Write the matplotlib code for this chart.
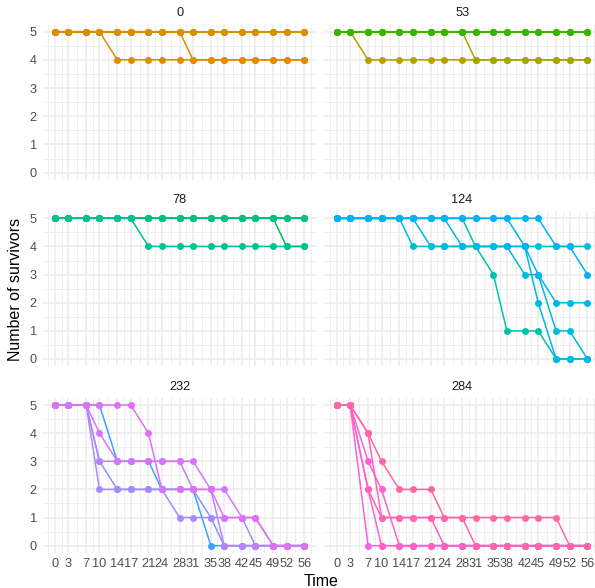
import numpy as np
import matplotlib.pyplot as plt

plt.rcParams['font.family'] = ['Liberation Sans', 'DejaVu Sans']

# sampling days and the survivor counts of every replicate, one list per dose
times = [0, 3, 7, 10, 14, 17, 21, 24, 28, 31, 35, 38, 42, 45, 49, 52, 56]
doses = ["0", "53", "78", "124", "232", "284"]

surv_0 = [
    [5, 5, 5, 5, 5, 5, 5, 5, 5, 5, 5, 5, 5, 5, 5, 5, 5],
    [5, 5, 5, 5, 5, 5, 5, 5, 5, 5, 5, 5, 5, 5, 5, 5, 5],
    [5, 5, 5, 5, 4, 4, 4, 4, 4, 4, 4, 4, 4, 4, 4, 4, 4],
    [5, 5, 5, 5, 5, 5, 5, 5, 5, 4, 4, 4, 4, 4, 4, 4, 4],
    [5, 5, 5, 5, 5, 5, 5, 5, 5, 5, 5, 5, 5, 5, 5, 5, 5],
]
surv_53 = [
    [5, 5, 4, 4, 4, 4, 4, 4, 4, 4, 4, 4, 4, 4, 4, 4, 4],
    [5, 5, 5, 5, 5, 5, 5, 5, 5, 4, 4, 4, 4, 4, 4, 4, 4],
    [5, 5, 5, 5, 5, 5, 5, 5, 5, 5, 5, 5, 5, 5, 5, 5, 5],
    [5, 5, 5, 5, 5, 5, 5, 5, 5, 5, 5, 5, 5, 5, 5, 5, 5],
    [5, 5, 5, 5, 5, 5, 5, 5, 5, 5, 5, 5, 5, 5, 5, 5, 5],
]
surv_78 = [
    [5, 5, 5, 5, 5, 5, 5, 5, 5, 5, 5, 5, 5, 5, 5, 5, 5],
    [5, 5, 5, 5, 5, 5, 5, 5, 5, 5, 5, 5, 5, 5, 5, 4, 4],
    [5, 5, 5, 5, 5, 5, 5, 5, 5, 5, 5, 5, 5, 5, 5, 5, 5],
    [5, 5, 5, 5, 5, 5, 5, 5, 5, 5, 5, 5, 5, 5, 5, 5, 5],
    [5, 5, 5, 5, 5, 5, 4, 4, 4, 4, 4, 4, 4, 4, 4, 4, 4],
]
surv_124 = [
    [5, 5, 5, 5, 5, 5, 5, 5, 5, 4, 3, 1, 1, 1, 0, 0, 0],
    [5, 5, 5, 5, 5, 4, 4, 4, 4, 4, 4, 4, 4, 4, 4, 4, 4],
    [5, 5, 5, 5, 5, 5, 4, 4, 4, 4, 4, 4, 3, 3, 1, 1, 0],
    [5, 5, 5, 5, 5, 5, 5, 5, 4, 4, 4, 4, 4, 2, 0, 0, 0],
    [5, 5, 5, 5, 5, 5, 5, 5, 5, 5, 5, 5, 4, 3, 2, 2, 2],
    [5, 5, 5, 5, 5, 5, 5, 5, 5, 5, 5, 5, 5, 5, 4, 4, 3],
]
surv_232 = [
    [5, 5, 5, 5, 3, 3, 3, 2, 2, 2, 0, 0, 0, 0, 0, 0, 0],
    [5, 5, 5, 3, 2, 2, 2, 2, 2, 2, 1, 0, 0, 0, 0, 0, 0],
    [5, 5, 5, 2, 2, 2, 2, 2, 1, 1, 1, 1, 1, 0, 0, 0, 0],
    [5, 5, 5, 3, 3, 3, 3, 3, 3, 2, 2, 0, 0, 0, 0, 0, 0],
    [5, 5, 5, 4, 3, 3, 3, 3, 3, 3, 2, 2, 1, 1, 0, 0, 0],
    [5, 5, 5, 5, 5, 5, 4, 2, 2, 2, 2, 1, 1, 1, 0, 0, 0],
]
surv_284 = [
    [5, 5, 0, 0, 0, 0, 0, 0, 0, 0, 0, 0, 0, 0, 0, 0, 0],
    [5, 5, 3, 2, 0, 0, 0, 0, 0, 0, 0, 0, 0, 0, 0, 0, 0],
    [5, 5, 2, 0, 0, 0, 0, 0, 0, 0, 0, 0, 0, 0, 0, 0, 0],
    [5, 5, 2, 1, 1, 1, 1, 0, 0, 0, 0, 0, 0, 0, 0, 0, 0],
    [5, 5, 4, 1, 1, 1, 1, 1, 1, 0, 0, 0, 0, 0, 0, 0, 0],
    [5, 5, 4, 3, 2, 2, 2, 1, 1, 1, 1, 1, 1, 1, 1, 0, 0],
]

# hue (degrees) of each replicate line, ggplot style hcl colours
hues_0 = [35, 40, 48, 42, 52]
hues_53 = [78, 86, 112, 118, 124]
hues_78 = [152, 148, 158, 162, 170]
hues_124 = [180, 205, 212, 218, 225, 230]
hues_232 = [250, 262, 272, 280, 292, 300]
hues_284 = [318, 325, 332, 338, 344, 350]

surv = [surv_0, surv_53, surv_78, surv_124, surv_232, surv_284]
hues = [hues_0, hues_53, hues_78, hues_124, hues_232, hues_284]


def hcl(h, c=100.0, l=65.0):
    # polar Luv -> sRGB, same as R's hcl()
    hr = np.deg2rad(h)
    u, v = c * np.cos(hr), c * np.sin(hr)
    Xn, Yn, Zn = 95.047, 100.0, 108.883
    den = Xn + 15 * Yn + 3 * Zn
    un, vn = 4 * Xn / den, 9 * Yn / den
    Y = Yn * ((l + 16) / 116) ** 3
    up = u / (13 * l) + un
    vp = v / (13 * l) + vn
    X = Y * 9 * up / (4 * vp)
    Z = Y * (12 - 3 * up - 20 * vp) / (4 * vp)
    M = np.array([[3.240479, -1.537150, -0.498535],
                  [-0.969256, 1.875992, 0.041556],
                  [0.055648, -0.204043, 1.057311]])
    rgb = M @ (np.array([X, Y, Z]) / 100)
    rgb = np.where(rgb > 0.0031308, 1.055 * np.abs(rgb) ** (1 / 2.4) - 0.055, 12.92 * rgb)
    return tuple(np.clip(rgb, 0, 1))


W, H = 595, 588
fig = plt.figure(figsize=(W / 100, H / 100), dpi=100)

cols = [(42.5, 316.8), (324.2, 600.0)]
rows = [(24.6, 179.7), (211.3, 366.0), (398.0, 552.7)]

xmaj = np.array(times, dtype=float)
ext = np.concatenate([[xmaj[0] - 3], xmaj, [xmaj[-1] + 3]])
xmin = (ext[:-1] + ext[1:]) / 2
ymaj = np.arange(0, 6)
ymin = np.arange(0.5, 5, 1.0)

for k in range(6):
    r, c = divmod(k, 2)
    x0, x1 = cols[c]
    y0, y1 = rows[r]
    ax = fig.add_axes([x0 / W, 1 - y1 / H, (x1 - x0) / W, (y1 - y0) / H])
    ax.set_xlim(-2.8, 58.8)
    ax.set_ylim(-0.25, 5.25)
    for sp in ax.spines.values():
        sp.set_visible(False)

    for xv in xmin:
        ax.axvline(xv, color='#EBEBEB', lw=0.55, zorder=0)
    for yv in ymin:
        ax.axhline(yv, color='#EBEBEB', lw=0.55, zorder=0)
    for xv in xmaj:
        ax.axvline(xv, color='#EBEBEB', lw=1.1, zorder=0)
    for yv in ymaj:
        ax.axhline(yv, color='#EBEBEB', lw=1.1, zorder=0)

    cols_k = [hcl(h) for h in hues[k]]
    for ys, col in zip(surv[k], cols_k):
        ax.plot(times, ys, color=col, lw=1.1, zorder=2)
    for ys, col in zip(surv[k], cols_k):
        ax.plot(times, ys, 'o', color=col, ms=5, mew=0, zorder=3)

    ax.set_xticks(times)
    ax.set_yticks(ymaj)
    ax.tick_params(length=0, labelsize=9.2, colors='#4D4D4D', pad=4)
    if r < 2:
        ax.set_xticklabels([])
    if c == 1:
        ax.set_yticklabels([])
    ax.set_title(doses[k], fontsize=9.2, color='#1A1A1A', pad=6)

fig.text(321 / W, 1 - 581 / H, "Time", ha='center', va='center', fontsize=11.5)
fig.text(16 / W, 1 - 289 / H, "Number of survivors", ha='center', va='center',
         rotation=90, fontsize=11.5)

fig.savefig("out.png", dpi=100)
